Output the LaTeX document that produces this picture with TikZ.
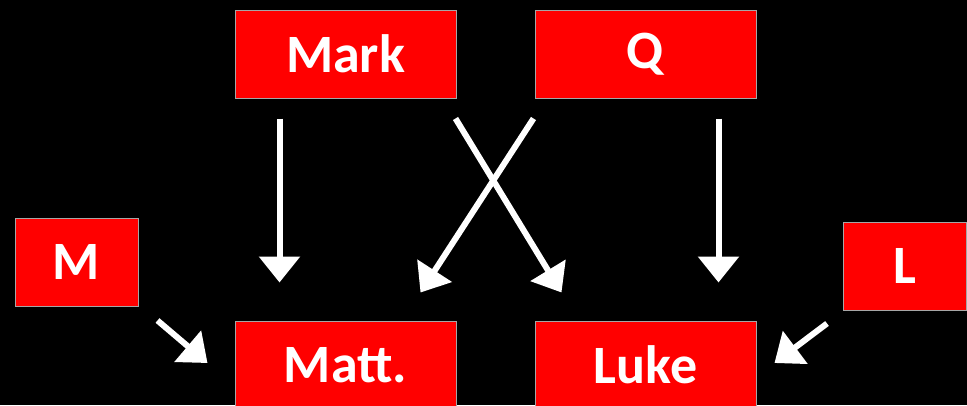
\documentclass[tikz,border=0pt]{standalone}
\usepackage{fontspec}
\setmainfont{Carlito}
\usepackage{tikz}
\usetikzlibrary{positioning, arrows.meta, calc}

\begin{document}
\begin{tikzpicture}[
  x=1pt, y=-1pt,
  box/.style={rectangle, draw=gray!70, line width=1pt, fill=red, text=white,
    font=\fontsize{54}{60}\selectfont\bfseries, minimum width=221pt, minimum height=88pt, inner sep=0pt},
  smallbox/.style={box, minimum width=123pt},
  arr/.style={-{Triangle[length=26pt, width=40pt]}, draw=white, line width=6pt}
]
\useasboundingbox[fill=black] (0,0) rectangle (967,405);
\clip (0,0) rectangle (967,405);
\node[box] (mark) at (345.5,54) {Mark};
\node[box] (q) at (645.5,54) {Q};
\node[box] (matt) at (345.5,365) {Matt.};
\node[box] (luke) at (645.5,365) {Luke};
\node[smallbox] (m) at (76.5,262) {M};
\node[smallbox] (l) at (905,266) {L};
% straight down
\draw[arr] ([shift={(45,20)}]mark.south west) -- ([shift={(45,-38)}]matt.north west);
\draw[arr] ([shift={(184,20)}]q.south west) -- ([shift={(184,-38)}]luke.north west);
% the cross
\draw[arr] ([shift={(-1,20)}]mark.south east) -- ([shift={(27,-28)}]luke.north west);
\draw[arr] ([shift={(-1,20)}]q.south west) -- ([shift={(-36,-28)}]matt.north east);
% side sources
\draw[arr] ([shift={(19,14)}]m.south east) -- ([shift={(-27,-2)}]matt.west);
\draw[arr] ([shift={(-16,13)}]l.south west) -- ([shift={(18,-2)}]luke.east);
\end{tikzpicture}
\end{document}
